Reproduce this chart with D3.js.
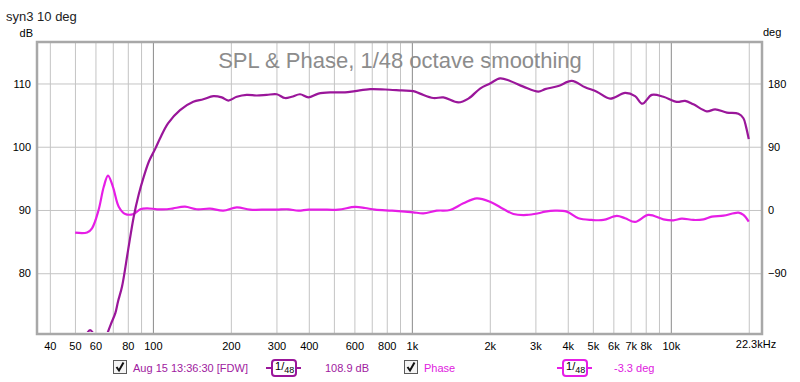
<!DOCTYPE html>
<html><head><meta charset="utf-8">
<script src="https://cdn.jsdelivr.net/npm/d3@7/dist/d3.min.js"></script>
<style>body{margin:0;background:#fff}svg{display:block;font-family:"Liberation Sans",Arial,sans-serif}</style>
</head><body>
<svg id="c" width="800" height="382"></svg>
<script>
// ---- data ----
const splFreq = [50, 53, 55.5, 57.2, 59, 61.5, 63.5, 66.5, 68.9, 71.6, 73.3, 76.0, 80.1, 84.3, 88.1, 92.1, 96.6, 102.2, 106.5, 114.4, 127.3, 143.2, 156.5, 171.2, 184.4, 195.5, 210.8, 230.3, 251.7, 275.1, 300.8, 323.7, 343.6, 370, 398.5, 435.5, 490.5, 552.1, 603.5, 689.8, 788, 914, 1013, 1076, 1211, 1323, 1512, 1653, 1834, 2004, 2191, 2395, 2696, 3081, 3270, 3680, 4146, 4667, 5179, 5830, 6661, 7279, 7768, 8446, 9363, 10549, 11355, 12232, 13775, 14833, 16461, 18245, 19073, 19535, 20000];
const splDb = [66, 68, 70.4, 71.0, 70.4, 68, 67.5, 70.3, 72.0, 73.7, 75.5, 77.9, 83.5, 88.9, 92.4, 95.2, 97.7, 99.7, 101.3, 103.7, 105.8, 107.1, 107.5, 108.0, 107.8, 107.3, 107.9, 108.2, 108.1, 108.2, 108.3, 107.7, 107.9, 108.3, 107.8, 108.4, 108.6, 108.6, 108.8, 109.1, 109.05, 108.9, 108.8, 108.4, 107.7, 107.8, 107.0, 107.6, 109.2, 110.0, 110.8, 110.4, 109.5, 108.7, 109.1, 109.6, 110.4, 109.4, 108.7, 107.6, 108.5, 108.0, 106.8, 108.2, 107.9, 107.1, 107.25, 106.7, 105.6, 105.9, 105.4, 105.2, 104.5, 103.1, 101.2];
const phaseFreq = [50.1, 55.7, 58.2, 61.7, 64.6, 67.1, 70.1, 73.8, 78.2, 84.3, 89.4, 94.9, 103.7, 113.4, 119.9, 133, 147.7, 166.2, 187, 210.8, 237.2, 275.1, 300.8, 333.4, 364.4, 398.5, 448.7, 520.2, 603.5, 659.6, 721.1, 836.2, 941, 1013, 1108, 1248, 1404, 1581, 1781, 2004, 2257, 2466, 2779, 3081, 3270, 3573, 3966, 4397, 4954, 5492, 6187, 6661, 7279, 8194, 9363, 10233, 11027, 12232, 13375, 14401, 15969, 18245, 19073, 20000];
const phaseDeg = [-32.3, -32, -26, 0, 33, 49, 33, 4.7, -5.7, -5.7, 1, 2.4, 1, 1, 2.4, 4.7, 1, 1.9, -1, 3.8, 0.5, 0.5, 0.5, 1, -1, 0.5, 0.5, 0.5, 4.3, 2.8, 0.5, -1, -2.4, -3.3, -4.7, -1, 0, 9.5, 16.6, 11.8, 1.4, -5.7, -7.1, -4.7, -2.4, -1, -2.4, -11.8, -14.2, -14.2, -8.5, -11.8, -17, -7.1, -13.3, -14.7, -12.3, -14.2, -13.3, -9.5, -8.1, -3.8, -7.1, -16.6];
const xGrid = [40,50,60,70,80,90,200,300,400,500,600,700,800,900,2000,3000,4000,5000,6000,7000,8000,9000,20000];
const xDecades = [100,1000,10000];
const xLabels = [40,50,60,80,100,200,300,400,600,800,1000,2000,3000,4000,5000,6000,7000,8000,10000];
const dbTicks = [80,90,100,110];
const degTicks = [-90,0,90,180];
const fMin = 36, fMax = 22300;
const dbMin = 70.55, dbMax = 116.4;

// ---- layout ----
const L = 38, R = 761, T = 43, B = 333;
const svg = d3.select("#c");
const x = d3.scaleLog().domain([fMin, fMax]).range([L, R]);
const y = d3.scaleLinear().domain([dbMin, dbMax]).range([B, T]);
const yp = d3.scaleLinear().domain([(dbMin-90)*9, (dbMax-90)*9]).range([B, T]);

svg.append("text").attr("x",6).attr("y",21).attr("font-size",13).attr("fill","#222").text("syn3 10 deg");
svg.append("text").attr("x",33).attr("y",37).attr("font-size",11).attr("text-anchor","end").text("dB");
svg.append("text").attr("x",763).attr("y",36).attr("font-size",11).text("deg");

// grid
const grid = svg.append("g");
grid.append("g").attr("transform",`translate(0,${B})`)
  .call(d3.axisBottom(x).tickValues(xGrid).tickSize(-(B-T)).tickFormat(""))
  .call(g=>{g.select(".domain").remove(); g.selectAll("line").attr("stroke","#c4c4c4");});
grid.append("g").attr("transform",`translate(0,${B})`)
  .call(d3.axisBottom(x).tickValues(xDecades).tickSize(-(B-T)).tickFormat(""))
  .call(g=>{g.select(".domain").remove(); g.selectAll("line").attr("stroke","#8a8a8a");});
grid.append("g").attr("transform",`translate(${L},0)`)
  .call(d3.axisLeft(y).tickValues(dbTicks).tickSize(-(R-L)).tickFormat(""))
  .call(g=>{g.select(".domain").remove(); g.selectAll("line").attr("stroke","#c4c4c4");});

// title
svg.append("text").attr("x",400).attr("y",68).attr("font-size",22).attr("text-anchor","middle")
  .attr("fill","#8c8c8c").text("SPL & Phase, 1/48 octave smoothing");

// curves
svg.append("clipPath").attr("id","clip").append("rect").attr("x",L).attr("y",T).attr("width",R-L).attr("height",B-T-1);
const plot = svg.append("g").attr("clip-path","url(#clip)");
const lineSpl = d3.line().x(d=>x(d[0])).y(d=>y(d[1])).curve(d3.curveCatmullRom.alpha(0.5));
const linePh = d3.line().x(d=>x(d[0])).y(d=>yp(d[1])).curve(d3.curveCatmullRom.alpha(0.5));
plot.append("path").datum(phaseFreq.map((f,i)=>[f,phaseDeg[i]])).attr("d",linePh)
  .attr("fill","none").attr("stroke","#e61ee6").attr("stroke-width",2.2).attr("stroke-linejoin","round");
plot.append("path").datum(splFreq.map((f,i)=>[f,splDb[i]])).attr("d",lineSpl)
  .attr("fill","none").attr("stroke","#9a169a").attr("stroke-width",2.2).attr("stroke-linejoin","round");

// frame
svg.append("rect").attr("x",L-1).attr("y",T-1).attr("width",R-L+2).attr("height",B-T+2)
  .attr("fill","none").attr("stroke","#a8a8a8").attr("stroke-width",2.5);

// axes labels
const fmt = f => f>=1000 ? (f/1000)+"k" : String(f);
svg.append("g").attr("transform",`translate(0,${B+4})`)
  .call(d3.axisBottom(x).tickValues(xLabels).tickSize(0).tickFormat(fmt))
  .call(g=>{g.select(".domain").remove(); g.selectAll("text").attr("font-size",11).attr("fill","#000").attr("font-family","Liberation Sans, Arial").attr("dy","0.95em");});
svg.append("text").attr("x",x(fMax)-5).attr("y",348).attr("font-size",11).attr("text-anchor","middle").text("22.3kHz");
svg.append("g").attr("transform",`translate(${L-4},0)`)
  .call(d3.axisLeft(y).tickValues(dbTicks).tickSize(0))
  .call(g=>{g.select(".domain").remove(); g.selectAll("text").attr("font-size",11).attr("fill","#000").attr("font-family","Liberation Sans, Arial");});
svg.append("g").attr("transform",`translate(${R+4},0)`)
  .call(d3.axisRight(yp).tickValues(degTicks).tickSize(0))
  .call(g=>{g.select(".domain").remove(); g.selectAll("text").attr("font-size",11).attr("fill","#000").attr("font-family","Liberation Sans, Arial");});

// legend
function checkbox(cx){
  const g = svg.append("g");
  g.append("rect").attr("x",cx+0.5).attr("y",360.5).attr("width",13).attr("height",13).attr("fill","#f4f4f4").attr("stroke","#5a5a5a");
  g.append("path").attr("d",`M${cx+3.5},${367} L${cx+6},${370.5} L${cx+10.5},${362.5}`).attr("fill","none").attr("stroke","#111").attr("stroke-width",2);
}
function smoothIcon(x0, color){
  const g = svg.append("g");
  g.append("line").attr("x1",x0).attr("x2",x0+35).attr("y1",368).attr("y2",368).attr("stroke",color).attr("stroke-width",2);
  g.append("rect").attr("x",x0+6).attr("y",360).attr("width",24).attr("height",16).attr("rx",3).attr("fill","#fff").attr("stroke",color).attr("stroke-width",2);
  const t = g.append("text").attr("x",x0+9).attr("y",372).attr("font-size",11).attr("fill","#000");
  t.append("tspan").attr("dy",-2).text("1");
  t.append("tspan").attr("dy",0).text("/");
  t.append("tspan").attr("dy",3).attr("font-size",9).text("48");
}
checkbox(113);
svg.append("text").attr("x",133).attr("y",372).attr("font-size",11).attr("fill","#a020a0").text("Aug 15 13:36:30 [FDW]");
smoothIcon(266, "#9a169a");
svg.append("text").attr("x",325).attr("y",372).attr("font-size",11).attr("fill","#a020a0").text("108.9 dB");
checkbox(404);
svg.append("text").attr("x",424).attr("y",372).attr("font-size",11).attr("fill","#e020e0").text("Phase");
smoothIcon(557, "#e61ee6");
svg.append("text").attr("x",614).attr("y",372).attr("font-size",11).attr("fill","#e020e0").text("-3.3 deg");
</script>
</body></html>
